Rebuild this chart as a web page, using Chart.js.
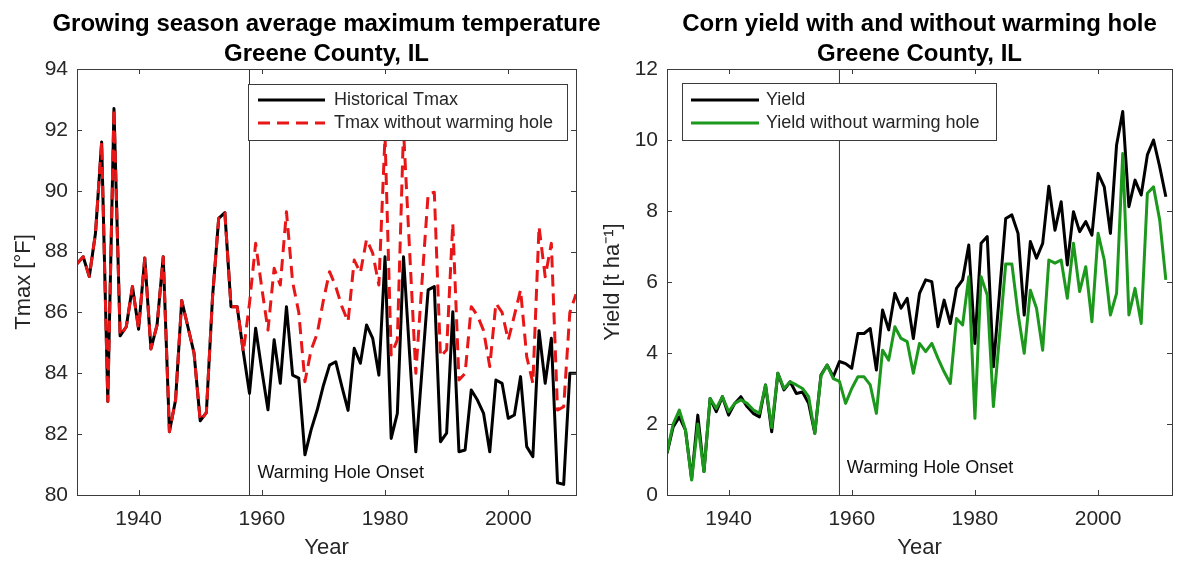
<!DOCTYPE html>
<html>
<head>
<meta charset="utf-8">
<script src="https://cdn.jsdelivr.net/npm/chart.js@4.4.1/dist/chart.umd.min.js"></script>
<style>
  html, body { margin: 0; padding: 0; background: #fff; overflow: hidden; width: 1177px; height: 561px; }
  canvas { position: absolute; top: 0; }
  #tmaxChart { left: 0; }
  #yieldChart { left: 596px; }
</style>
</head>
<body>
<canvas id="tmaxChart" width="653" height="561"></canvas>
<canvas id="yieldChart" width="647" height="561"></canvas>
<script>
// years of the record
const years = [
  1930, 1931, 1932, 1933, 1934, 1935, 1936, 1937, 1938, 1939,
  1940, 1941, 1942, 1943, 1944, 1945, 1946, 1947, 1948, 1949,
  1950, 1951, 1952, 1953, 1954, 1955, 1956, 1957, 1958, 1959,
  1960, 1961, 1962, 1963, 1964, 1965, 1966, 1967, 1968, 1969,
  1970, 1971, 1972, 1973, 1974, 1975, 1976, 1977, 1978, 1979,
  1980, 1981, 1982, 1983, 1984, 1985, 1986, 1987, 1988, 1989,
  1990, 1991, 1992, 1993, 1994, 1995, 1996, 1997, 1998, 1999,
  2000, 2001, 2002, 2003, 2004, 2005, 2006, 2007, 2008, 2009,
  2010, 2011
];

// growing season Tmax [F]
const tmaxHistorical = [
  87.6, 87.83, 87.18, 88.6, 91.6, 83.07, 92.7, 85.23, 85.53, 86.85,
  85.45, 87.79, 84.8, 85.59, 87.83, 82.08, 83.12, 86.39, 85.53, 84.66,
  82.44, 82.71, 86.5, 89.09, 89.28, 86.19, 86.19, 84.7, 83.34, 85.48,
  84.1, 82.8, 85.1, 83.67, 86.19, 83.94, 83.84, 81.32, 82.14, 82.8,
  83.6, 84.27, 84.38, 83.56, 82.78, 84.82, 84.33, 85.59, 85.15, 83.94,
  87.83, 81.86, 82.68, 87.83, 84.6, 81.42, 84.1, 86.74, 86.85, 81.75,
  82.03, 86.02, 81.42, 81.48, 83.45, 83.12, 82.68, 81.42, 83.78, 83.67,
  82.52, 82.63, 83.89, 81.59, 81.26, 85.4, 83.67, 85.15, 80.4, 80.35,
  84.0, 84.0
];
const tmaxNoHole = [
  87.6, 87.83, 87.18, 88.6, 91.6, 83.07, 92.7, 85.23, 85.53, 86.85,
  85.45, 87.79, 84.8, 85.59, 87.83, 82.08, 83.12, 86.39, 85.53, 84.66,
  82.44, 82.71, 86.5, 89.09, 89.28, 86.19, 86.19, 84.7, 86.3, 88.27,
  86.8, 85.42, 87.45, 86.9, 89.31, 87.0, 86.0, 83.72, 84.77, 85.31,
  86.4, 87.34, 86.85, 86.19, 85.7, 87.72, 87.3, 88.4, 87.95, 86.9,
  91.8, 84.6, 85.1, 92.0, 88.0, 84.0, 87.0, 89.9, 89.95, 84.55,
  84.77, 88.93, 83.78, 84.0, 86.19, 85.9, 85.4, 84.22, 86.3, 86.0,
  85.09, 85.9, 86.74, 84.55, 83.67, 88.82, 87.17, 88.27, 82.79, 82.9,
  86.0, 86.6
];

// corn yield [t/ha]
const yieldHistorical = [
  1.17, 1.92, 2.2, 1.83, 0.45, 2.25, 0.66, 2.72, 2.35, 2.77,
  2.25, 2.58, 2.77, 2.49, 2.3, 2.2, 3.1, 1.78, 3.43, 2.96,
  3.19, 2.86, 2.9, 2.58, 1.74, 3.38, 3.66, 3.33, 3.76, 3.7,
  3.57, 4.55, 4.55, 4.69, 3.52, 5.21, 4.65, 5.68, 5.26, 5.54,
  4.41, 5.68, 6.06, 6.01, 4.74, 5.49, 4.83, 5.82, 6.06, 7.04,
  4.27, 7.09, 7.28, 3.61, 5.7, 7.79, 7.89, 7.37, 5.07, 7.14,
  6.67, 7.09, 8.7, 7.46, 8.26, 6.48, 7.98, 7.42, 7.7, 7.32,
  9.06, 8.68, 7.37, 9.86, 10.8, 8.12, 8.87, 8.45, 9.58, 10.0,
  9.25, 8.4
];
const yieldNoHole = [
  1.2, 2.0, 2.39, 1.83, 0.42, 2.0, 0.66, 2.72, 2.44, 2.77,
  2.35, 2.58, 2.68, 2.58, 2.4, 2.3, 3.1, 1.9, 3.43, 3.0,
  3.19, 3.1, 3.0, 2.77, 1.74, 3.35, 3.66, 3.28, 3.2, 2.58,
  3.0, 3.33, 3.33, 3.1, 2.3, 4.08, 3.8, 4.74, 4.41, 4.32,
  3.43, 4.27, 4.04, 4.27, 3.85, 3.47, 3.14, 4.97, 4.79, 6.15,
  2.16, 6.15, 5.63, 2.49, 4.5, 6.51, 6.51, 5.11, 3.99, 5.77,
  5.26, 4.08, 6.62, 6.53, 6.62, 5.54, 7.09, 5.73, 6.43, 4.88,
  7.37, 6.62, 5.07, 5.68, 9.62, 5.07, 5.82, 4.83, 8.5, 8.68,
  7.75, 6.06
];

const onsetYear = 1958;
const xTickYears = [1940, 1960, 1980, 2000];
const tmaxRange = [80, 94];
const yieldRange = [0, 12];
const tmaxYearRange = [1930, 2011];
const yieldYearRange = [1930, 2012];

const fontFamily = '"Liberation Sans", Arial, Helvetica, sans-serif';
const textColor = '#262626';
const axisColor = '#3c3c3c';
const tickLen = 5;

function points(vals) {
  return years.map((yr, i) => ({ x: yr, y: vals[i] }));
}

// axes box with inward ticks, like matlab
const frameAndTicks = {
  id: 'frameAndTicks',
  afterDatasetsDraw(chart) {
    const { ctx, chartArea: a, scales: { x, y } } = chart;
    ctx.save();
    ctx.strokeStyle = axisColor;
    ctx.lineWidth = 1;
    ctx.strokeRect(Math.round(a.left) + 0.5, Math.round(a.top) + 0.5,
      Math.round(a.right - a.left), Math.round(a.bottom - a.top));
    ctx.beginPath();
    x.ticks.forEach(t => {
      const px = Math.round(x.getPixelForValue(t.value)) + 0.5;
      ctx.moveTo(px, a.bottom); ctx.lineTo(px, a.bottom - tickLen);
      ctx.moveTo(px, a.top); ctx.lineTo(px, a.top + tickLen);
    });
    y.ticks.forEach(t => {
      const py = Math.round(y.getPixelForValue(t.value)) + 0.5;
      ctx.moveTo(a.left, py); ctx.lineTo(a.left + tickLen, py);
      ctx.moveTo(a.right, py); ctx.lineTo(a.right - tickLen, py);
    });
    ctx.stroke();
    ctx.restore();
  }
};

// boxed legend inside the axes
const boxLegend = {
  id: 'boxLegend',
  afterDraw(chart, args, opts) {
    const ctx = chart.ctx;
    ctx.save();
    ctx.fillStyle = '#fff';
    ctx.fillRect(opts.left, opts.top, opts.width, opts.height);
    ctx.strokeStyle = axisColor;
    ctx.lineWidth = 1;
    ctx.strokeRect(opts.left + 0.5, opts.top + 0.5, opts.width, opts.height);
    ctx.font = '18px ' + fontFamily;
    ctx.textBaseline = 'middle';
    opts.items.forEach((idx, row) => {
      const ds = chart.data.datasets[idx];
      const yy = opts.rowY[row];
      ctx.strokeStyle = ds.borderColor;
      ctx.lineWidth = ds.borderWidth;
      ctx.setLineDash(ds.borderDash || []);
      ctx.beginPath();
      ctx.moveTo(opts.lineX0, yy);
      ctx.lineTo(opts.lineX1, yy);
      ctx.stroke();
      ctx.setLineDash([]);
      ctx.fillStyle = textColor;
      ctx.fillText(ds.label, opts.textX, yy);
    });
    ctx.restore();
  }
};

const onsetLabel = {
  id: 'onsetLabel',
  afterDraw(chart, args, opts) {
    const { ctx, scales: { x, y } } = chart;
    ctx.save();
    ctx.font = '18px ' + fontFamily;
    ctx.fillStyle = '#111';
    ctx.textBaseline = 'middle';
    ctx.fillText(opts.text, x.getPixelForValue(opts.x), y.getPixelForValue(opts.y));
    ctx.restore();
  }
};

function makeOptions(cfg) {
  return {
    responsive: false,
    animation: false,
    events: [],
    layout: { padding: 0 },
    elements: { point: { radius: 0 }, line: { tension: 0, borderJoinStyle: 'round', borderCapStyle: 'butt' } },
    scales: {
      x: {
        type: 'linear',
        min: cfg.xRange[0],
        max: cfg.xRange[1],
        grid: { display: false, drawTicks: false },
        border: { display: false },
        afterBuildTicks: s => { s.ticks = xTickYears.map(v => ({ value: v })); },
        afterFit: s => { s.height = 66; },
        ticks: {
          padding: 12,
          color: textColor,
          font: { family: fontFamily, size: 21 },
          maxRotation: 0,
          callback: v => String(v)
        },
        title: {
          display: true,
          text: 'Year',
          color: textColor,
          font: { family: fontFamily, size: 22 },
          padding: { top: 0, bottom: 0 }
        }
      },
      y: {
        min: cfg.yRange[0],
        max: cfg.yRange[1],
        grid: { display: false, drawTicks: false },
        border: { display: false },
        afterFit: s => { s.width = cfg.yWidth; },
        ticks: {
          stepSize: 2,
          padding: 9,
          color: textColor,
          font: { family: fontFamily, size: 21 }
        },
        title: {
          display: true,
          text: cfg.yTitle,
          color: textColor,
          font: { family: fontFamily, size: 22 },
          padding: { top: cfg.yTitlePad, bottom: 0 }
        }
      },
      // empty right axis, keeps the plot centred under the title
      yPad: {
        position: 'right',
        grid: { display: false, drawTicks: false },
        border: { display: false },
        ticks: { display: false },
        afterFit: s => { s.width = cfg.yWidth; }
      }
    },
    plugins: {
      legend: { display: false },
      tooltip: { enabled: false },
      title: {
        display: true,
        text: cfg.title,
        color: '#000',
        font: { family: fontFamily, size: 24, weight: 'bold', lineHeight: 1.25 },
        padding: { top: 9, bottom: 0 }
      },
      boxLegend: cfg.legend,
      onsetLabel: cfg.label
    }
  };
}

new Chart(document.getElementById('tmaxChart'), {
  type: 'line',
  data: {
    datasets: [
      { label: 'Historical Tmax', data: points(tmaxHistorical), borderColor: '#000', borderWidth: 3, order: 1 },
      { label: 'Tmax without warming hole', data: points(tmaxNoHole), borderColor: 'rgb(232,22,22)', borderWidth: 3, borderDash: [12, 7], order: 0 },
      { label: 'onset', data: [{ x: onsetYear, y: tmaxRange[0] }, { x: onsetYear, y: tmaxRange[1] }], borderColor: '#333', borderWidth: 1, order: 2 }
    ]
  },
  options: makeOptions({
    yWidth: 77,
    yTitlePad: 10.8,
    xRange: tmaxYearRange,
    yRange: tmaxRange,
    yTitle: 'Tmax [°F]',
    title: ['Growing season average maximum temperature', 'Greene County, IL'],
    legend: { left: 248, top: 84, width: 319, height: 56, lineX0: 258, lineX1: 325, textX: 334, rowY: [100, 123], items: [0, 1] },
    label: { text: 'Warming Hole Onset', x: 1959.3, y: 80.72 }
  }),
  plugins: [frameAndTicks, boxLegend, onsetLabel]
});

new Chart(document.getElementById('yieldChart'), {
  type: 'line',
  data: {
    datasets: [
      { label: 'Yield', data: points(yieldHistorical), borderColor: '#000', borderWidth: 3, order: 1 },
      { label: 'Yield without warming hole', data: points(yieldNoHole), borderColor: 'rgb(28,152,28)', borderWidth: 3, order: 0 },
      { label: 'onset', data: [{ x: onsetYear, y: yieldRange[0] }, { x: onsetYear, y: yieldRange[1] }], borderColor: '#333', borderWidth: 1, order: 2 }
    ]
  },
  options: makeOptions({
    yWidth: 71,
    yTitlePad: 3.8,
    xRange: yieldYearRange,
    yRange: yieldRange,
    yTitle: 'Yield [t ha\u207B\u00B9]',
    title: ['Corn yield with and without warming hole', 'Greene County, IL'],
    legend: { left: 86, top: 83, width: 314, height: 57, lineX0: 95, lineX1: 163, textX: 170, rowY: [100, 123], items: [0, 1] },
    label: { text: 'Warming Hole Onset', x: 1959.2, y: 0.76 }
  }),
  plugins: [frameAndTicks, boxLegend, onsetLabel]
});
</script>
</body>
</html>
